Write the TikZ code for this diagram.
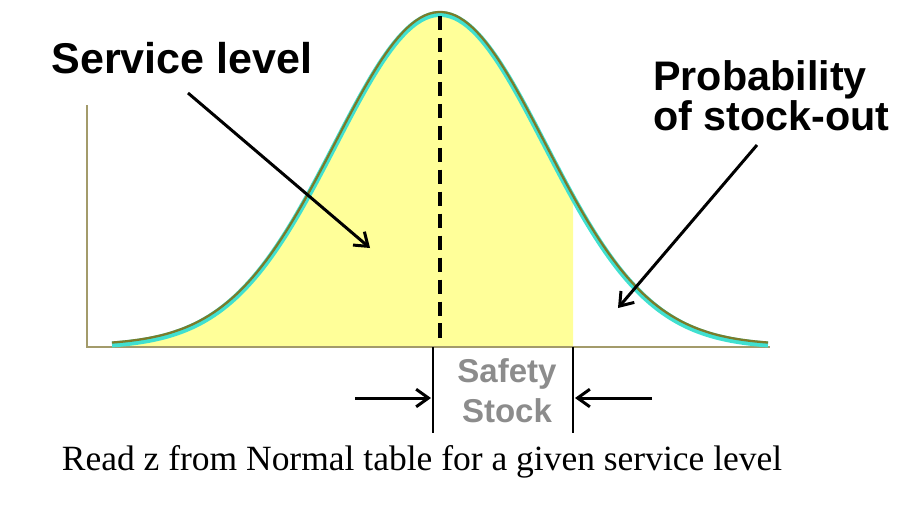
\documentclass[tikz,border=0pt]{standalone}
\usepackage{fontspec}
\setmainfont{Liberation Serif}
\setsansfont{Liberation Sans}
\usetikzlibrary{arrows.meta}
\definecolor{bellfill}{HTML}{FFFF99}
\definecolor{bellglow}{HTML}{40E0D0}
\definecolor{bellline}{HTML}{7B7B2A}
\definecolor{axisline}{HTML}{A39B6B}
\definecolor{stockgray}{HTML}{8C8C8C}
\begin{document}
\begin{tikzpicture}[x=0.02cm,y=-0.02cm,
  pointer/.style={-{Straight Barb[length=7pt,width=10pt]}, line width=1.7pt},
  biglabel/.style={font=\sffamily\bfseries\fontsize{23.5}{22.8}\selectfont, inner sep=0pt},
  marker/.style={line width=1.3pt}]
\useasboundingbox (0,0) rectangle (902,504);
% shaded service level area
\fill[bellfill] (112,347) -- plot[domain=112:573, samples=100] (\x, {347-333*exp(-0.5*((\x-440)/105)^2)}) -- (573,347) -- cycle;
% axes
\draw[axisline, line width=1.4pt] (87,105) -- (87,347) -- (770,347);
% the bell curve
\draw[bellglow, line width=3.4pt] plot[domain=112:768, samples=150] (\x, {347-333*exp(-0.5*((\x-440)/105)^2)});
\draw[bellline, line width=1.3pt, yshift=1.1pt] plot[domain=112:768, samples=150] (\x, {347-333*exp(-0.5*((\x-440)/105)^2)});
\draw[line width=2pt, dash pattern=on 8pt off 4.5pt] (440,16) -- (440,342);
% labels
\node[biglabel, font=\sffamily\bfseries\fontsize{24.5}{22.8}\selectfont, anchor=base] (svlabel) at (182,73) {Service level};
\node[biglabel, anchor=north west, align=left] (polabel) at (653,60) {Probability\\of stock-out};
\coordinate (svstart) at (188,93);
\coordinate (svtip) at (370,248);
\coordinate (postart) at (757,145);
\coordinate (potip) at (618,308);
\draw[pointer] (svstart) -- (svtip);
\draw[pointer] (postart) -- (potip);
% safety stock
\coordinate (ssltop) at (433,347);
\coordinate (sslbot) at (433,433);
\coordinate (ssrtop) at (573,347);
\coordinate (ssrbot) at (573,433);
\draw[marker] (ssltop) -- (sslbot);
\draw[marker] (ssrtop) -- (ssrbot);
\coordinate (ssleftin) at (355,398);
\coordinate (ssleftat) at (431,398);
\coordinate (ssrightin) at (652,398);
\coordinate (ssrightat) at (575,398);
\draw[pointer] (ssleftin) -- (ssleftat);
\draw[pointer] (ssrightin) -- (ssrightat);
\node[font=\sffamily\bfseries\fontsize{18.8}{22.8}\selectfont, text=stockgray, align=center, inner sep=0pt, anchor=north] (sslabel) at (507,358) {Safety\\Stock};
\node[font=\fontsize{20.2}{24}\selectfont, anchor=base] (readlabel) at (422,470) {Read z from Normal table for a given service level};
\end{tikzpicture}
\end{document}
